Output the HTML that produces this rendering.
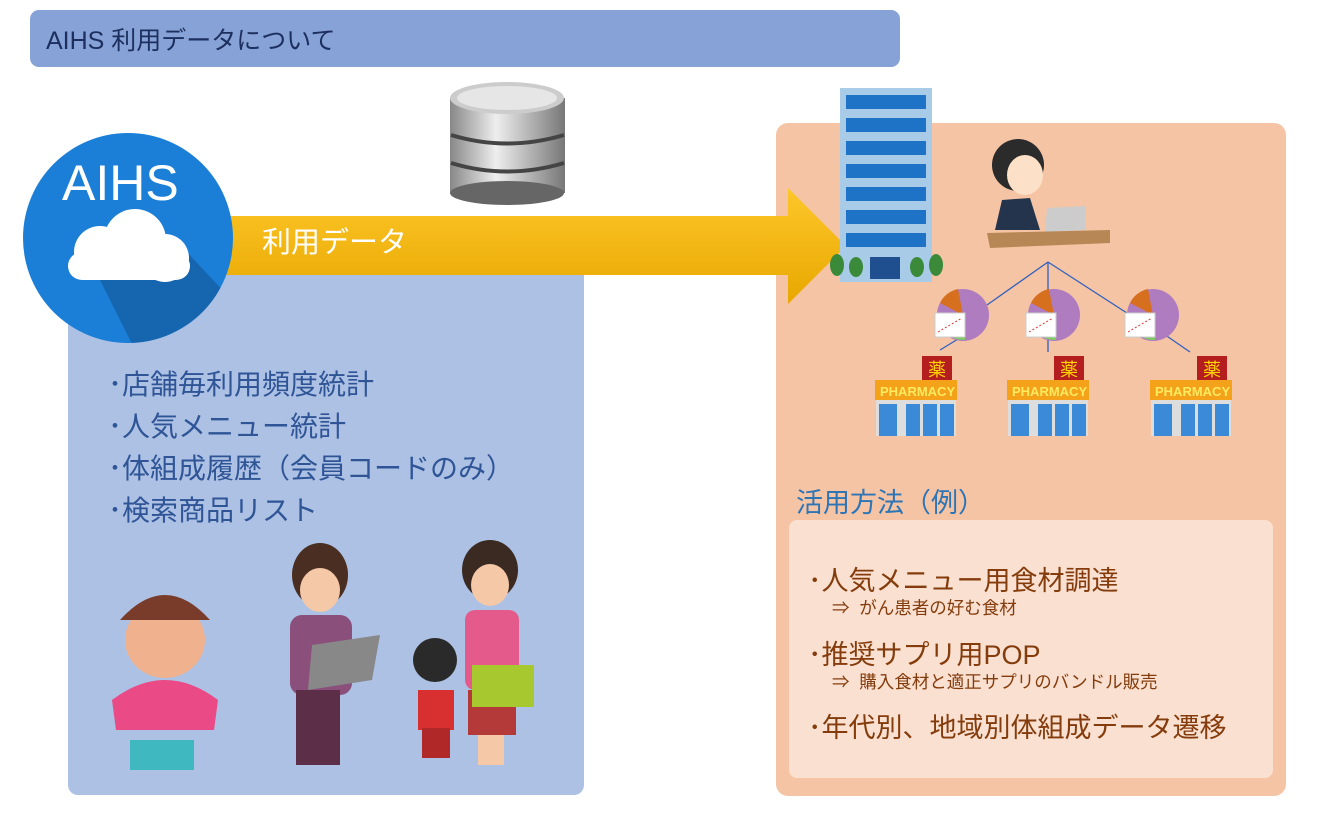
<!DOCTYPE html>
<html><head><meta charset="utf-8"><style>
body{margin:0;width:1330px;height:822px;background:#fff;position:relative;overflow:hidden;font-family:"Liberation Sans","Noto Sans CJK JP",sans-serif}
.a{position:absolute;white-space:nowrap}
.lt{color:#2f5597;font-size:28px;left:108px}
.rt{color:#843c0c;font-size:27px;left:808px}
.st{color:#843c0c;font-size:17.5px;left:832px}
</style></head><body>
<div class="a" style="left:30px;top:10px;width:870px;height:57px;background:#86a2d6;border-radius:9px"></div>
<div class="a" style="left:46px;top:21px;font-size:25px;color:#1c2f5e">AIHS 利用データについて</div>
<div class="a" style="left:68px;top:225px;width:516px;height:570px;background:#adc1e4;border-radius:10px"></div>
<div class="a" style="left:776px;top:123px;width:510px;height:673px;background:#f5c4a4;border-radius:12px"></div>
<div class="a" style="left:789px;top:520px;width:484px;height:258px;background:#fae0d1;border-radius:8px"></div>
<svg class="a" style="left:0;top:0" width="1330" height="822">
<defs>
<linearGradient id="g" x1="0" y1="0" x2="0" y2="1"><stop offset="0" stop-color="#fdc72a"/><stop offset="1" stop-color="#e8a700"/></linearGradient>
<linearGradient id="c" x1="0" y1="0" x2="1" y2="0"><stop offset="0" stop-color="#888"/><stop offset=".4" stop-color="#eee"/><stop offset="1" stop-color="#777"/></linearGradient>
<clipPath id="cc"><circle cx="128" cy="238" r="105"/></clipPath>
</defs>
<polygon points="225,216 788,216 788,188 846,246 788,304 788,275 225,275" fill="url(#g)"/>
<circle cx="128" cy="238" r="105" fill="#1b7fd8"/>
<polygon points="95,270 185,250 260,330 140,360" fill="#145a9e" opacity=".7" clip-path="url(#cc)"/>
<g fill="#fff"><circle cx="100" cy="252" r="26"/><circle cx="135" cy="240" r="31"/><circle cx="165" cy="258" r="24"/><rect x="68" y="252" width="122" height="28" rx="14"/></g>
<text x="62" y="200" fill="#fff" font-size="50" font-family="Liberation Sans">AIHS</text>
<text x="262" y="252" fill="#fff" font-size="29" font-family="Liberation Sans,Noto Sans CJK JP">利用データ</text>
<rect x="450" y="98" width="115" height="95" fill="url(#c)"/>
<ellipse cx="507" cy="193" rx="57" ry="12" fill="#666"/>
<ellipse cx="507" cy="98" rx="57" ry="16" fill="#ccc"/>
<ellipse cx="507" cy="98" rx="50" ry="12" fill="#e6e6e6"/>
<path d="M451 135 Q507 152 564 135 M451 163 Q507 180 564 163" stroke="#444" stroke-width="4" fill="none"/>
<rect x="840" y="88" width="92" height="194" fill="#a8cce8"/>
<g fill="#1f73c6">
<rect x="846" y="95" width="80" height="14"/><rect x="846" y="118" width="80" height="14"/><rect x="846" y="141" width="80" height="14"/><rect x="846" y="164" width="80" height="14"/><rect x="846" y="187" width="80" height="14"/><rect x="846" y="210" width="80" height="14"/><rect x="846" y="233" width="80" height="14"/></g>
<rect x="870" y="257" width="30" height="22" fill="#1f4f8f"/>
<g fill="#3a8a3a"><ellipse cx="837" cy="265" rx="7" ry="11"/><ellipse cx="856" cy="267" rx="7" ry="10"/><ellipse cx="917" cy="267" rx="7" ry="10"/><ellipse cx="936" cy="265" rx="7" ry="11"/></g>
<ellipse cx="1018" cy="165" rx="26" ry="26" fill="#2b2b2b"/>
<ellipse cx="1025" cy="175" rx="18" ry="20" fill="#fde0c8"/>
<path d="M995 230 L1002 200 L1030 198 L1040 230Z" fill="#24344d"/>
<polygon points="1047,208 1086,206 1085,230 1045,232" fill="#ccc"/>
<polygon points="987,233 1110,230 1110,243 990,248" fill="#b88756"/>
<g stroke="#3060c0" stroke-width="1.3" fill="none"><path d="M1048 262 L987 305 M1048 262 L1048 340 M1048 262 L1130 315 M940 350 L963 336 M1048 340 L1048 352 M1158 330 L1190 352"/></g>
<g id="ch">
<circle cx="963" cy="315" r="26" fill="#b07cc0"/>
<path d="M963 315 L940 303 A26 26 0 0 1 958 289Z" fill="#d66f1e"/>
<path d="M963 315 L965 340 A26 26 0 0 1 950 336Z" fill="#7ccc60"/>
<rect x="935" y="313" width="30" height="24" fill="#fff" stroke="#ccc"/>
<path d="M938 332 L950 325 L962 318" stroke="#d33" stroke-dasharray="2 2" fill="none"/>
</g>
<use href="#ch" x="91"/><use href="#ch" x="190"/>
<g id="ph">
<rect x="922" y="356" width="30" height="24" fill="#b51e1e"/>
<text x="928" y="376" fill="#ffd400" font-size="18" font-family="Noto Sans CJK JP">薬</text>
<rect x="875" y="380" width="82" height="20" fill="#f5a21b"/>
<text x="880" y="396" fill="#ffea60" font-size="13" font-weight="bold" font-family="Liberation Sans">PHARMACY</text>
<rect x="876" y="400" width="80" height="36" fill="#ddd"/>
<rect x="879" y="404" width="18" height="32" fill="#3b8ad8"/><rect x="906" y="404" width="14" height="32" fill="#3b8ad8"/><rect x="923" y="404" width="14" height="32" fill="#3b8ad8"/><rect x="940" y="404" width="14" height="32" fill="#3b8ad8"/>
</g>
<use href="#ph" x="132"/><use href="#ph" x="275"/>
<ellipse cx="165" cy="640" rx="40" ry="38" fill="#f0b28e"/>
<path d="M120 620 Q165 570 210 620 Z" fill="#7a3c2a"/>
<path d="M112 700 Q165 660 218 700 L214 730 L116 730Z" fill="#ea4a86"/>
<rect x="130" y="740" width="64" height="30" fill="#3fb8c0"/>
<ellipse cx="320" cy="575" rx="28" ry="32" fill="#4a2e22"/>
<ellipse cx="320" cy="590" rx="20" ry="22" fill="#f5c8a8"/>
<rect x="290" y="615" width="62" height="80" rx="12" fill="#8a4f7a"/>
<rect x="296" y="690" width="44" height="75" fill="#5c2e48"/>
<polygon points="312,645 380,635 372,680 308,690" fill="#888"/>
<ellipse cx="490" cy="570" rx="28" ry="30" fill="#3a2a22"/>
<ellipse cx="490" cy="585" rx="19" ry="21" fill="#f5c8a8"/>
<rect x="465" y="610" width="54" height="80" rx="10" fill="#e45a8a"/>
<rect x="468" y="690" width="48" height="45" fill="#b43a3a"/>
<rect x="478" y="735" width="26" height="30" fill="#f5c8a8"/>
<rect x="472" y="665" width="62" height="42" fill="#a8c830"/>
<ellipse cx="435" cy="660" rx="22" ry="22" fill="#2a2a2a"/>
<rect x="418" y="690" width="36" height="40" fill="#d83030"/>
<rect x="422" y="728" width="28" height="30" fill="#b02828"/>
</svg>
<div class="a lt" style="top:363px">･店舗毎利用頻度統計</div>
<div class="a lt" style="top:405px">･人気メニュー統計</div>
<div class="a lt" style="top:447px">･体組成履歴（会員コードのみ）</div>
<div class="a lt" style="top:489px">･検索商品リスト</div>
<div class="a" style="left:796px;top:481px;font-size:27px;color:#2e75b6">活用方法（例）</div>
<div class="a rt" style="top:559px">･人気メニュー用食材調達</div>
<div class="a st" style="top:595px">⇒&nbsp; がん患者の好む食材</div>
<div class="a rt" style="top:633px">･推奨サプリ用POP</div>
<div class="a st" style="top:669px">⇒&nbsp; 購入食材と適正サプリのバンドル販売</div>
<div class="a rt" style="top:706px">･年代別、地域別体組成データ遷移</div>
</body></html>
